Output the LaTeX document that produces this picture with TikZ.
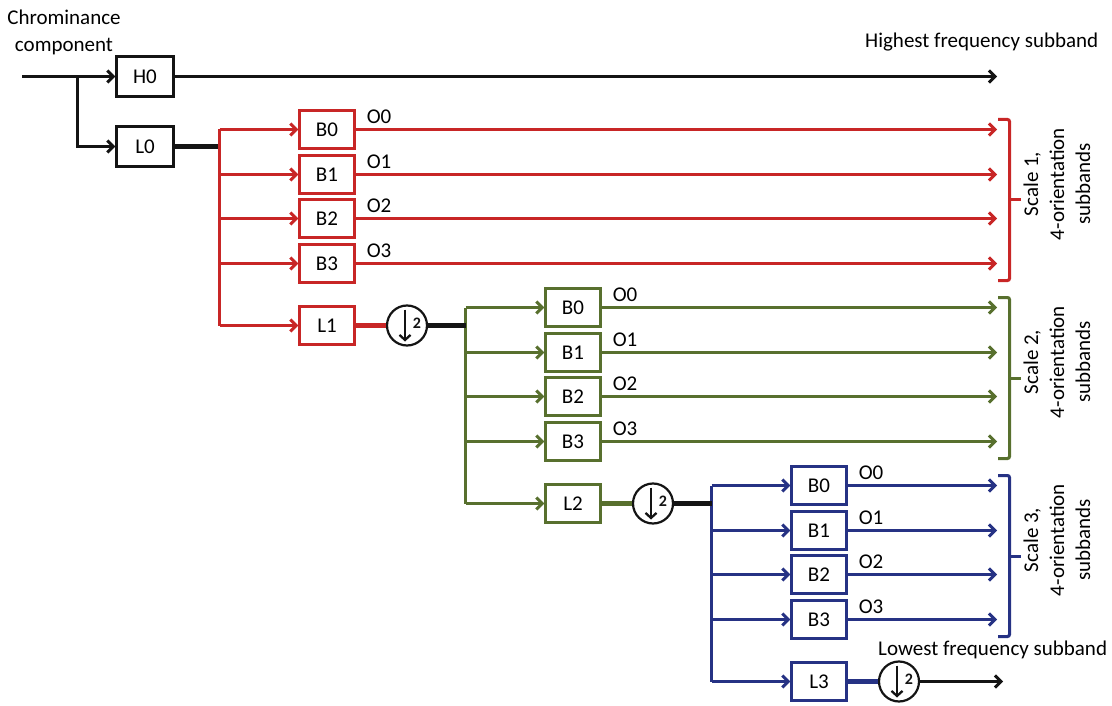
\documentclass[tikz,border=0pt]{standalone}
\usepackage{fontspec}
\setmainfont{Carlito}
\usetikzlibrary{arrows.meta}
\definecolor{cred}{RGB}{200,38,38}
\definecolor{cgreen}{RGB}{88,112,46}
\definecolor{cblue}{RGB}{38,50,132}
\definecolor{cblack}{RGB}{20,20,20}
\begin{document}
\begin{tikzpicture}[x=1pt,y=-1pt,
  font=\fontsize{21}{26}\selectfont,
  blk/.style={draw, line width=2.2pt, minimum width=55pt, minimum height=38pt, inner sep=0pt, fill=white},
  arr/.style={line width=3pt, -{Straight Barb[length=6pt,width=12pt]}},
  wire/.style={line width=3pt},
  thick wire/.style={line width=4.5pt},
  circ/.style={draw=cblack, circle, line width=2.2pt, minimum size=40pt, inner sep=0pt, fill=white},
  brk/.style={line width=3pt, rounded corners=2pt},
  lbl/.style={anchor=south west, inner sep=0pt}]
\useasboundingbox (0,0) rectangle (1112,706);

% input stage
\node[anchor=north, align=center, inner sep=0pt, font=\fontsize{21}{27}\selectfont] (title) at (64,10) {Chrominance\\component};
\node[blk, draw=cblack, minimum width=57pt, minimum height=40pt] (h0) at (145,76.5) {H0};
\node[blk, draw=cblack, minimum width=57pt, minimum height=40pt] (l0) at (145,146.5) {L0};
\coordinate (inp) at (22,76.5);
\coordinate (br) at (77.5,76.5);
\coordinate (br2) at (77.5,146.5);
\coordinate (hend) at (997,76.5);
\draw[arr, cblack] (inp) -- (h0);
\draw[arr, cblack] (br) -- (br2) -- (l0);
\draw[arr, cblack] (h0) -- (hend);
\node[anchor=base west, inner sep=0pt] (hi) at (865,48) {Highest frequency subband};
\coordinate (bin0) at (219.5,146.5);
\draw[thick wire, cblack] (l0) -- (bin0);

\foreach \s/\c/\ln in {0/cred/1,1/cgreen/2,2/cblue/3}{
  \pgfmathsetmacro\X{327+246*\s}
  \pgfmathsetmacro\Y{129.5+178*\s}
  \pgfmathsetmacro\BX{219.5+246*\s}
  \foreach \k in {0,1,2,3}{
    \pgfmathsetmacro\YK{\Y+round(44.7*\k)}
    \node[blk, draw=\c] (b\s\k) at (\X,\YK) {B\k};
    \coordinate (e\s\k) at (997,\YK);
    \coordinate (j\s\k) at (\BX,\YK);
    \draw[arr, \c] (j\s\k) -- (b\s\k);
    \draw[arr, \c] (b\s\k) -- (e\s\k);
    \node[lbl] (o\s\k) at ([xshift=11pt,yshift=6pt]b\s\k.east) {O\k};
  }
  \node[blk, draw=\c] (l\s) at (\X,\Y+196) {L\ln};
  \coordinate (jl\s) at (\BX,\Y+196);
  \draw[wire, \c] (j\s0) -- (jl\s);
  \draw[arr, \c] (jl\s) -- (l\s);
  \node[circ] (c\s) at (\X+80,\Y+196) {};
  \draw[thick wire, \c] (l\s) -- (c\s);
  \coordinate (ca\s) at ([xshift=-2pt,yshift=16pt]c\s.center);
  \coordinate (cb\s) at ([xshift=-2pt,yshift=-16pt]c\s.center);
  \draw[line width=2.3pt, cblack, -{Straight Barb[length=5pt,width=11pt]}] (ca\s) -- (cb\s);
  \node[inner sep=0pt, font=\fontsize{16}{16}\selectfont\bfseries, text=cblack] (two\s) at ([xshift=10pt,yshift=2pt]c\s.center) {2};
  % bracket
  \pgfmathsetmacro\T{\Y-10}
  \pgfmathsetmacro\B{\Y+134+17}
  \pgfmathsetmacro\M{(\T+\B)/2}
  \coordinate (k1\s) at (998,\T);
  \coordinate (k2\s) at (1009.5,\T);
  \coordinate (k3\s) at (1009.5,\B);
  \coordinate (k4\s) at (998,\B);
  \coordinate (km\s) at (1009.5,\M);
  \coordinate (kt\s) at (1021,\M);
  \draw[brk, \c] (k1\s) -- (k2\s) -- (k3\s) -- (k4\s);
  \draw[wire, \c] (km\s) -- (kt\s);
  \node[rotate=90, align=center, inner sep=0pt] (sc\s) at (1057,\M-16) {Scale \ln,\\4-orientation\\subbands};
}
\coordinate (in1) at (465.5,325.5);
\coordinate (in2) at (711.5,503.5);
\coordinate (lend) at (1003,681.5);
\draw[thick wire, cblack] (c0) -- (in1);
\draw[thick wire, cblack] (c1) -- (in2);
\draw[arr, cblack] (c2) -- (lend);
\node[anchor=base west, inner sep=0pt] (lo) at (878,655) {Lowest frequency subband};
\end{tikzpicture}
\end{document}
